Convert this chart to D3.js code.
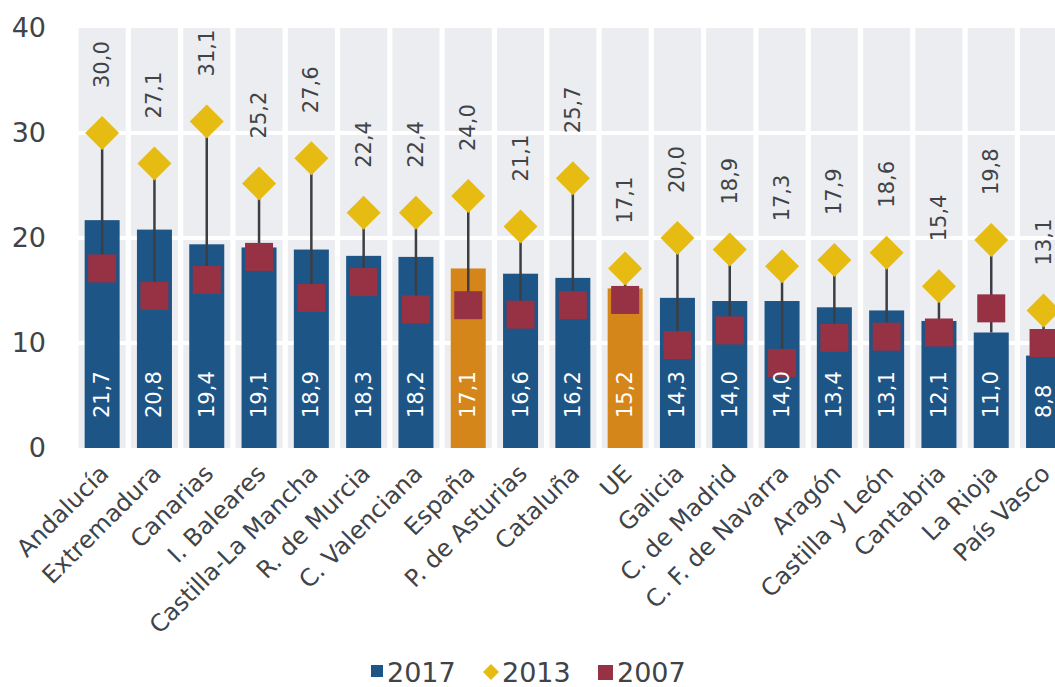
<!DOCTYPE html>
<html>
<head>
<meta charset="utf-8">
<script src="https://cdn.jsdelivr.net/npm/d3@7"></script>
<style>
  body { margin: 0; background: #fff; }
  svg { display: block; font-family: "DejaVu Sans", Verdana, sans-serif; }
</style>
</head>
<body>
<div id="chart"></div>
<script>
// Data
const regions = ["Andalucía", "Extremadura", "Canarias", "I. Baleares", "Castilla-La Mancha",
  "R. de Murcia", "C. Valenciana", "España", "P. de Asturias", "Cataluña", "UE", "Galicia",
  "C. de Madrid", "C. F. de Navarra", "Aragón", "Castilla y León", "Cantabria", "La Rioja", "País Vasco"];
const v2017 = [21.7, 20.8, 19.4, 19.1, 18.9, 18.3, 18.2, 17.1, 16.6, 16.2, 15.2, 14.3, 14.0, 14.0, 13.4, 13.1, 12.1, 11.0, 8.8];
const v2013 = [30.0, 27.1, 31.1, 25.2, 27.6, 22.4, 22.4, 24.0, 21.1, 25.7, 17.1, 20.0, 18.9, 17.3, 17.9, 18.6, 15.4, 19.8, 13.1];
const v2007 = [17.1, 14.5, 16.0, 18.2, 14.3, 15.8, 13.2, 13.6, 12.7, 13.6, 14.1, 9.8, 11.2, 8.1, 10.5, 10.6, 11.0, 13.3, 10.0];
const highlighted = ["España", "UE"];
const yTicks = [0, 10, 20, 30, 40];
const legendItems = ["2017", "2013", "2007"];

const width = 1055, height = 687;
const colBlue = "#1d5587", colOrange = "#d4861b", colGold = "#e6bb12", colRed = "#963244",
      colPanel = "#ebedf0", colText = "#404347", colLine = "#3b3f44";

const fmt = v => v.toFixed(1).replace(".", ",");

const rows = regions.map((r, i) => ({ name: r, a: v2017[i], b: v2013[i], c: v2007[i] }));

const svg = d3.select("#chart").append("svg")
  .attr("width", width)
  .attr("height", height);

// Scales
const x = d3.scaleBand()
  .domain(regions)
  .range([76, 76 + 52.3 * regions.length])
  .paddingInner(0.1)
  .paddingOuter(0.05);

const y = d3.scaleLinear()
  .domain([0, 40])
  .range([448, 28]);

// Gray background panels per category
svg.append("g").selectAll("rect")
  .data(regions)
  .join("rect")
  .attr("x", d => x(d))
  .attr("y", y(40))
  .attr("width", x.bandwidth())
  .attr("height", y(0) - y(40))
  .attr("fill", colPanel);

// White horizontal grid lines
svg.append("g").selectAll("line")
  .data(yTicks.filter(t => t > 0 && t < 40))
  .join("line")
  .attr("x1", 70)
  .attr("x2", width)
  .attr("y1", d => y(d))
  .attr("y2", d => y(d))
  .attr("stroke", "#fff")
  .attr("stroke-width", 4);

// Y axis
const yAxis = svg.append("g")
  .attr("transform", "translate(46,0)")
  .call(d3.axisLeft(y).tickValues(yTicks).tickSize(0).tickPadding(0));
yAxis.select(".domain").remove();
yAxis.selectAll("text")
  .attr("font-size", 27)
  .attr("font-family", "DejaVu Sans, sans-serif")
  .attr("fill", colText);

// Bars for 2017
const barW = 35;
svg.append("g").selectAll("rect")
  .data(rows)
  .join("rect")
  .attr("x", d => x(d.name) + x.bandwidth() / 2 - barW / 2)
  .attr("y", d => y(d.a))
  .attr("width", barW)
  .attr("height", d => y(0) - y(d.a))
  .attr("fill", d => highlighted.includes(d.name) ? colOrange : colBlue);

// High-low lines
svg.append("g").selectAll("line")
  .data(rows)
  .join("line")
  .attr("x1", d => x(d.name) + x.bandwidth() / 2)
  .attr("x2", d => x(d.name) + x.bandwidth() / 2)
  .attr("y1", d => y(Math.max(d.a, d.b, d.c)))
  .attr("y2", d => y(Math.min(d.a, d.b, d.c)))
  .attr("stroke", colLine)
  .attr("stroke-width", 2.5);

// Squares for 2007
const sq = 28;
svg.append("g").selectAll("rect")
  .data(rows)
  .join("rect")
  .attr("x", d => x(d.name) + x.bandwidth() / 2 - sq / 2)
  .attr("y", d => y(d.c) - sq / 2)
  .attr("width", sq)
  .attr("height", sq)
  .attr("fill", colRed);

// Diamonds for 2013
const dm = 17;
svg.append("g").selectAll("path")
  .data(rows)
  .join("path")
  .attr("transform", d => `translate(${x(d.name) + x.bandwidth() / 2},${y(d.b)})`)
  .attr("d", `M0,${-dm}L${dm},0L0,${dm}L${-dm},0Z`)
  .attr("fill", colGold);

// 2013 labels above diamonds
svg.append("g").selectAll("text")
  .data(rows)
  .join("text")
  .attr("transform", d => `translate(${x(d.name) + x.bandwidth() / 2 + 7},${y(d.b) - 45}) rotate(-90)`)
  .attr("font-size", 21)
  .attr("fill", colText)
  .text(d => fmt(d.b));

// 2017 labels inside bars
svg.append("g").selectAll("text")
  .data(rows)
  .join("text")
  .attr("transform", d => `translate(${x(d.name) + x.bandwidth() / 2 + 7},${y(0) - 30}) rotate(-90)`)
  .attr("font-size", 21)
  .attr("fill", "#fff")
  .text(d => fmt(d.a));

// Category labels
svg.append("g").selectAll("text")
  .data(regions)
  .join("text")
  .attr("transform", d => `translate(${x(d) + x.bandwidth() / 2 + 8},${y(0) + 27}) rotate(-45)`)
  .attr("text-anchor", "end")
  .attr("font-size", 24)
  .attr("fill", colText)
  .text(d => d);

// Legend
const legend = svg.append("g").attr("transform", "translate(0,682)");
const lgX = [371, 483, 598];
legendItems.forEach((label, i) => {
  const g = legend.append("g").attr("transform", `translate(${lgX[i]},0)`);
  if (i === 1) {
    g.append("path")
      .attr("d", "M8,-18L16,-10L8,-2L0,-10Z")
      .attr("fill", colGold);
    g.append("text").attr("x", 19).attr("font-size", 27).attr("fill", colText).text(label);
  } else {
    g.append("rect")
      .attr("x", 0).attr("y", -17)
      .attr("width", i === 0 ? 12 : 15)
      .attr("height", i === 0 ? 12 : 15)
      .attr("fill", i === 0 ? colBlue : colRed);
    g.append("text").attr("x", i === 0 ? 16 : 19).attr("font-size", 27).attr("fill", colText).text(label);
  }
});
</script>
</body>
</html>
